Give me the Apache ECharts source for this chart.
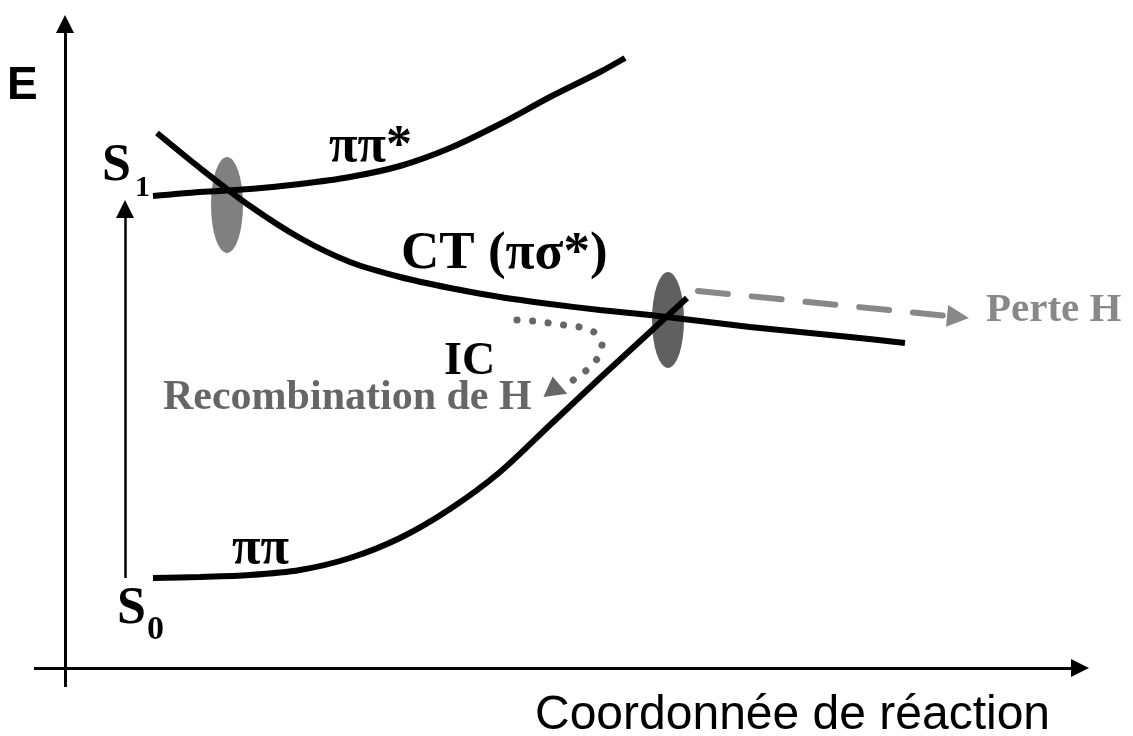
<!DOCTYPE html>
<html><head><meta charset="utf-8">
<script src="https://cdn.jsdelivr.net/npm/echarts@6/dist/echarts.min.js"></script>
<style>html,body{margin:0;padding:0;background:#fff}#c{width:1133px;height:736px}</style>
</head><body><div id="c"></div>
<script>
// Diagram data in diagram units (x: reaction coordinate, y: energy on an inverted axis)
var curvePiPiStar = [[153,196],[200,192],[250,189],[300,184],[350,177],[400,166],[450,148],[500,124],[550,97],[600,72],[625,58]];
var curveCT = [[157,133],[200,168],[250,206],[300,238],[350,262],[400,277],[450,288],[500,297],[550,304],[600,310],[650,315],[700,321],[750,327],[800,332],[850,337],[905,343]];
var curvePiPi = [[153,578],[200,577],[250,575],[300,570],[350,558],[400,538],[450,509],[500,472],[550,425],[600,378],[650,332],[687,298]];
var icPath = [[517,320],[533,321],[549,323],[564,325],[580,327],[594,332],[602,345],[598,358],[587,370],[572,381]];
var icHead = [[554,386]];
var lossPath = [[698,291],[958,317]];
var excitation = [[125,578],[125,209]];
var axisE = [[65,687],[65,24]];
var axisX = [[34,668],[1080,668]];
var crossings = [[227,205],[668,320]];
var labelTexts = ['E','S','1','S','0','ππ*','CT (πσ*)','IC','Recombination de H','Perte H','ππ','Coordonnée de réaction'];
var labelPos = [[7,86],[102,167],[135,188],[117,610],[147,630],[329,148],[401,254],[444,362],[163,398],[986,310],[232,550],[535,716]];

var serif = '"Liberation Serif","Times New Roman",serif';
var sans = '"Liberation Sans",Arial,sans-serif';
var labelStyles = [
  {fontFamily:sans,fontSize:46,fontWeight:'bold',color:'#000'},
  {fontFamily:serif,fontSize:52,fontWeight:'bold',color:'#000'},
  {fontFamily:serif,fontSize:30,fontWeight:'bold',color:'#000'},
  {fontFamily:serif,fontSize:52,fontWeight:'bold',color:'#000'},
  {fontFamily:serif,fontSize:34,fontWeight:'bold',color:'#000'},
  {fontFamily:serif,fontSize:52,fontWeight:'bold',color:'#000'},
  {fontFamily:serif,fontSize:53,fontWeight:'bold',color:'#000'},
  {fontFamily:serif,fontSize:46,fontWeight:'bold',color:'#000'},
  {fontFamily:serif,fontSize:42,fontWeight:'bold',color:'#666'},
  {fontFamily:serif,fontSize:41,fontWeight:'bold',color:'#888'},
  {fontFamily:serif,fontSize:52,fontWeight:'bold',color:'#000'},
  {fontFamily:sans,fontSize:48,fontWeight:'normal',color:'#000'}
];

var chart = echarts.init(document.getElementById('c'), null, {renderer:'canvas'});
function curve(name, data){
  return {type:'line', name:name, data:data, smooth:0.3, showSymbol:false, symbol:'none', z:5,
    lineStyle:{color:'#000', width:6, cap:'butt'}, silent:true, animation:false};
}
function arrow(coords, color, width, size, type, z, head){
  return {type:'lines', coordinateSystem:'cartesian2d', polyline: coords.length>2,
    symbol:['none', head===false?'none':'triangle'], symbolSize:size, z:z||4, silent:true, animation:false,
    itemStyle:{color:color},
    lineStyle:{color:color, width:width, type:type||'solid', cap: type&&type!=='solid'?'round':'butt', opacity:1, curveness:0},
    data:[{coords:coords}]};
}
var labelData = labelTexts.map(function(t,i){
  var s = labelStyles[i];
  return {value:labelPos[i], name:t, label:{show:true, formatter:t, position:[0,0], align:'left', verticalAlign:'middle', opacity:1,
    fontFamily:s.fontFamily, fontSize:s.fontSize, fontWeight:s.fontWeight, color:s.color}};
});
chart.setOption({
  backgroundColor:'#fff',
  animation:false,
  grid:{left:0,right:0,top:0,bottom:0,containLabel:false},
  xAxis:{type:'value',min:0,max:1133,show:false},
  yAxis:{type:'value',min:0,max:736,inverse:true,show:false},
  series:[
    {type:'scatter', data:[crossings[0]], symbol:'circle', symbolSize:[32,96], itemStyle:{color:'#808080',opacity:1}, z:2, silent:true},
    {type:'scatter', data:[crossings[1]], symbol:'circle', symbolSize:[32,96], itemStyle:{color:'#606060',opacity:1}, z:2, silent:true},
    arrow(axisE,'#000',3,[16,18]),
    arrow(axisX,'#000',3,[16,18]),
    arrow(excitation,'#000',2.5,[14,18]),
    arrow(lossPath,'#888',6,[20,22],[30,24],3),
    arrow(icPath,'#666',7,[20,20],[0.1,15.5],3,false),
    {type:'scatter', data:icHead, symbol:'triangle', symbolSize:[24,19], symbolRotate:8, itemStyle:{color:'#666',opacity:1}, z:3, silent:true},
    curve('ππ*', curvePiPiStar),
    curve('CT', curveCT),
    curve('ππ', curvePiPi),
    {type:'scatter', data:labelData, symbolSize:0, z:10, silent:true, itemStyle:{opacity:1}}
  ]
});
</script></body></html>
